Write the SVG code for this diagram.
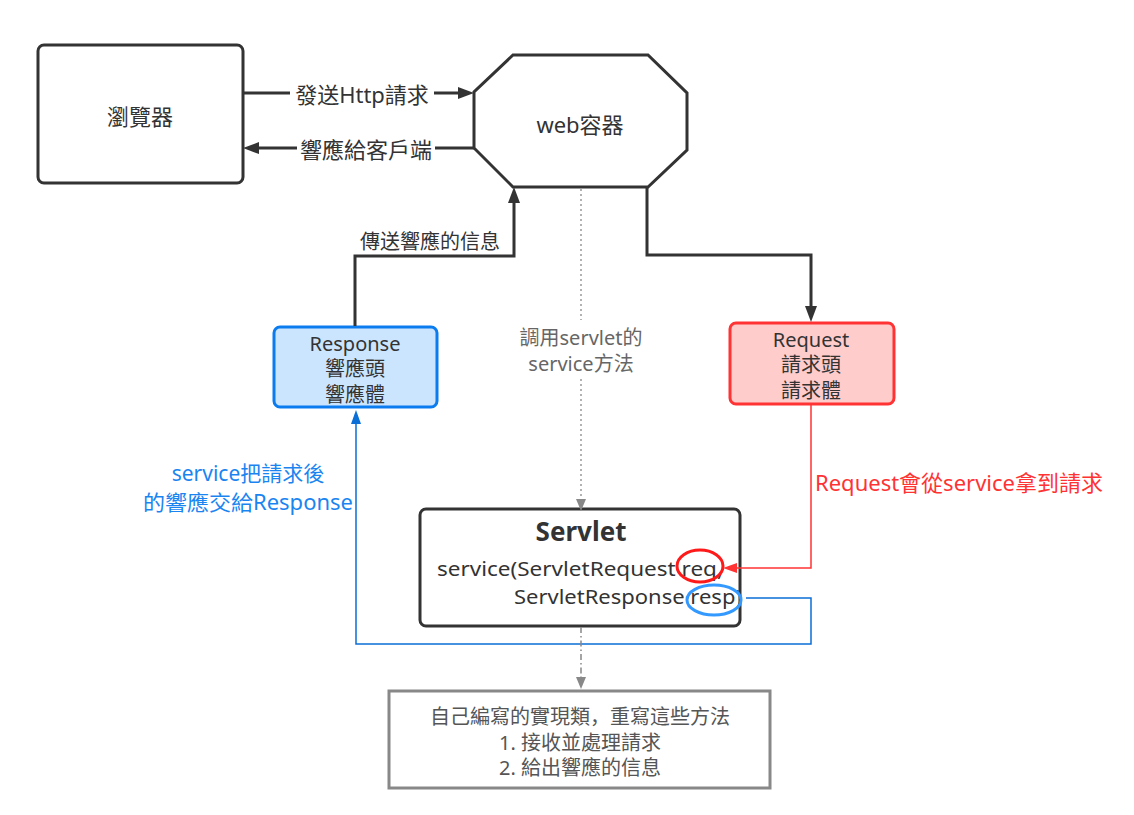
<svg xmlns="http://www.w3.org/2000/svg" width="1134" height="815" viewBox="0 0 1134 815">
<style>
text{font-family:"Noto Sans","Noto Sans CJK SC",sans-serif;font-size:20px;text-anchor:middle;dominant-baseline:central;fill:#333}
.big{font-size:22px}
.gray{fill:#666}
.blue{fill:#1a85f0;font-size:21px}
.red{fill:#ff3333;font-size:22px}
.box{fill:#fff;stroke:#333;stroke-width:3}
.conn{fill:none;stroke:#333;stroke-width:3}
.bg{fill:#fff}
</style>
<defs>
<marker id="ah" markerUnits="userSpaceOnUse" markerWidth="16" markerHeight="12" refX="6" refY="6" orient="auto" viewBox="0 0 16 12"><path d="M0,0 L16,6 L0,12 z" fill="#333"/></marker>
<marker id="ahg" markerUnits="userSpaceOnUse" markerWidth="12" markerHeight="12" refX="4" refY="5" orient="auto" viewBox="0 0 12 10"><path d="M0,0 L12,5 L0,10 z" fill="#888"/></marker>
<marker id="ahr" markerUnits="userSpaceOnUse" markerWidth="14" markerHeight="12" refX="4" refY="5" orient="auto" viewBox="0 0 14 10"><path d="M0,0 L14,5 L0,10 z" fill="#ff3333"/></marker>
<marker id="ahb" markerUnits="userSpaceOnUse" markerWidth="14" markerHeight="12" refX="4" refY="5" orient="auto" viewBox="0 0 14 10"><path d="M0,0 L14,5 L0,10 z" fill="#0a6fd6"/></marker>
</defs>
<rect width="1134" height="815" fill="#fff"/>
<g id="browser">
<rect class="box" x="38" y="45" width="205" height="138" rx="6"/>
<text class="big" x="140" y="116">瀏覽器</text>
</g>
<g id="web">
<polygon class="box" points="513,55 648,55 687,93 687,150 648,187 513,187 474,148 474,92"/>
<text class="big" x="580" y="124">web容器</text>
</g>
<g id="response">
<rect x="274" y="327" width="163" height="80" rx="6" fill="#cce5ff" stroke="#0a7cf0" stroke-width="3"/>
<text x="355" y="343">Response</text>
<text x="355" y="368">響應頭</text>
<text x="355" y="394">響應體</text>
</g>
<g id="request">
<rect x="730" y="323" width="164" height="81" rx="6" fill="#ffcccc" stroke="#ff3333" stroke-width="3"/>
<text x="811" y="339">Request</text>
<text x="811" y="364">請求頭</text>
<text x="811" y="390">請求體</text>
</g>
<g id="servlet">
<rect class="box" x="420" y="509" width="320" height="117" rx="6"/>
<text x="581" y="531" style="font-size:26px;font-weight:bold">Servlet</text>
<text x="437" y="568" style="text-anchor:start" textLength="286" lengthAdjust="spacingAndGlyphs">service(ServletRequest req,</text>
<text x="514" y="596" style="text-anchor:start" textLength="228" lengthAdjust="spacingAndGlyphs">ServletResponse resp)</text>
<ellipse cx="700" cy="566" rx="23" ry="16" fill="none" stroke="#ff1a1a" stroke-width="3"/>
<ellipse cx="714" cy="600" rx="27" ry="15" fill="none" stroke="#3399ff" stroke-width="3"/>
</g>
<g id="impl">
<rect x="389" y="691" width="381" height="97" fill="#fff" stroke="#888" stroke-width="3"/>
<text x="580" y="716" style="fill:#555">自己編寫的實現類，重寫這些方法</text>
<text x="580" y="742" style="fill:#555">1. 接收並處理請求</text>
<text x="580" y="767" style="fill:#555">2. 給出響應的信息</text>
</g>
<g id="connectors">
<path class="conn" d="M243,93 L464,93" marker-end="url(#ah)"/>
<rect class="bg" x="290" y="80" width="144" height="28"/>
<text class="big" x="362" y="94">發送Http請求</text>
<path class="conn" d="M474,148 L253,148" marker-end="url(#ah)"/>
<rect class="bg" x="297" y="135" width="138" height="28"/>
<text class="big" x="366" y="149">響應給客戶端</text>
<path class="conn" d="M355,326 L355,256 L514,256 L514,197" marker-end="url(#ah)"/>
<text x="430" y="241">傳送響應的信息</text>
<path class="conn" d="M647,187 L647,255 L811,255 L811,312" marker-end="url(#ah)"/>
<path d="M581,189 L581,503" fill="none" stroke="#999" stroke-width="1.5" stroke-dasharray="2,3" marker-end="url(#ahg)"/>
<rect class="bg" x="510" y="320" width="142" height="57"/>
<text class="gray" x="581" y="337">調用servlet的</text>
<text class="gray" x="581" y="363">service方法</text>
<path d="M811,404 L811,568 L733,568" fill="none" stroke="#ff3333" stroke-width="1.5" marker-end="url(#ahr)"/>
<text class="red" x="959" y="482">Request會從service拿到請求</text>
<path d="M746,598 L811,598 L811,644 L356,644 L356,420" fill="none" stroke="#0a6fd6" stroke-width="1.5" marker-end="url(#ahb)"/>
<text class="blue" x="248" y="473">service把請求後</text>
<text class="blue" x="248" y="502" textLength="210" lengthAdjust="spacingAndGlyphs">的響應交給Response</text>
<path d="M581,627 L581,681" fill="none" stroke="#888" stroke-width="1.5" stroke-dasharray="6,3,1.5,3" marker-end="url(#ahg)"/>
</g>
</svg>
